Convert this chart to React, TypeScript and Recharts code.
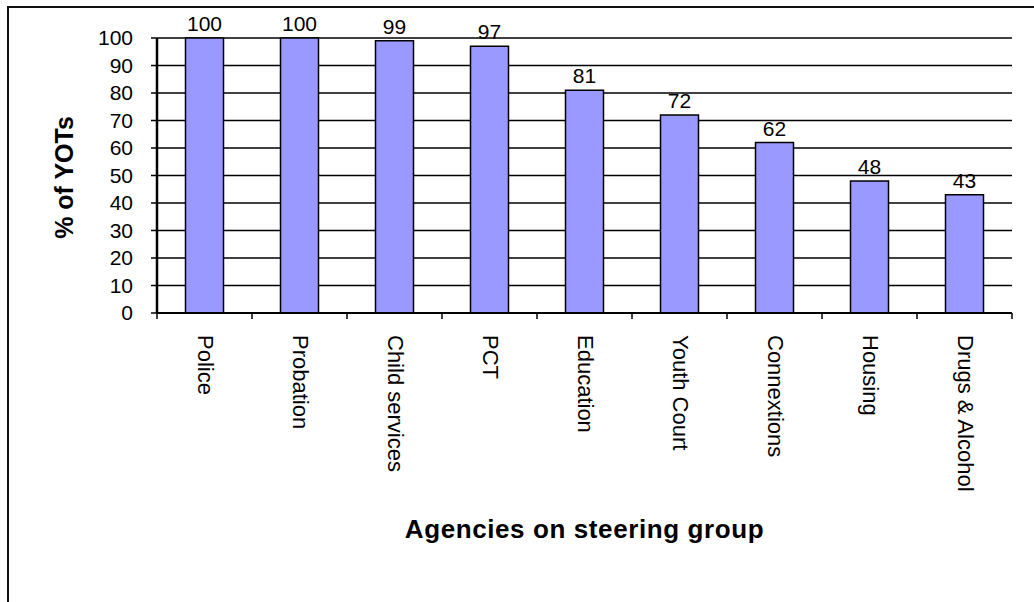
import React from "react";
import {
  BarChart,
  Bar,
  XAxis,
  YAxis,
  CartesianGrid,
  LabelList,
  Label,
} from "recharts";

const agencies = [
  "Police",
  "Probation",
  "Child services",
  "PCT",
  "Education",
  "Youth Court",
  "Connextions",
  "Housing",
  "Drugs & Alcohol",
];
const percentYots = [100, 100, 99, 97, 81, 72, 62, 48, 43];
const yTicks = [0, 10, 20, 30, 40, 50, 60, 70, 80, 90, 100];

const data = agencies.map((agency, i) => ({ agency, value: percentYots[i] }));

const FONT = "Arial, 'Liberation Sans', sans-serif";

const AgencyTick = (props: any) => {
  const { x, y, payload, index } = props;
  const half = payload?.offset ?? 47.5;
  const axisY = y - 22;
  return (
    <g>
      <line x1={x - half} x2={x - half} y1={axisY} y2={axisY + 6} stroke="#000" strokeWidth={1.5} />
      {index === agencies.length - 1 && (
        <line x1={x + half} x2={x + half} y1={axisY} y2={axisY + 6} stroke="#000" strokeWidth={1.5} />
      )}
      <text
        x={x + 1}
        y={y}
        transform={`rotate(90, ${x + 1}, ${y})`}
        textAnchor="start"
        dominantBaseline="central"
        fontSize={22}
        fontFamily={FONT}
        fill="#000"
      >
        {payload.value}
      </text>
    </g>
  );
};

const YTitle = (props: any) => {
  const vb = props.viewBox;
  const cx = vb.x + vb.width / 2 - 15;
  const cy = vb.y + vb.height / 2 + 2;
  return (
    <text
      x={cx}
      y={cy}
      transform={`rotate(-90, ${cx}, ${cy})`}
      textAnchor="middle"
      dominantBaseline="central"
      fontSize={25}
      fontWeight="bold"
      fontFamily={FONT}
      fill="#000"
    >
      % of YOTs
    </text>
  );
};

export default function App() {
  return (
    <div
      style={{
        position: "fixed",
        left: 0,
        top: 0,
        width: 1034,
        height: 602,
        overflow: "hidden",
        background: "#fff",
      }}
    >
      <div
        style={{
          position: "absolute",
          left: 7,
          top: 6,
          width: 1100,
          height: 700,
          border: "2px solid #111",
        }}
      />
      <div style={{ position: "absolute", left: 0, top: 0 }}>
        <BarChart
          width={1034}
          height={602}
          data={data}
          margin={{ top: 38, right: 22, left: 0, bottom: 0 }}
          barCategoryGap="30%"
        >
          <CartesianGrid vertical={false} stroke="#000" strokeWidth={1.5} />
          <XAxis
            dataKey="agency"
            interval={0}
            height={289}
            tickLine={false}
            tickSize={6}
            tickMargin={16}
            axisLine={{ stroke: "#000", strokeWidth: 2 }}
            tick={<AgencyTick />}
          >
            <Label
              value="Agencies on steering group"
              position="insideBottom"
              offset={64}
              fontSize={26}
              fontWeight="bold"
              fontFamily={FONT}
              letterSpacing={0.6}
              fill="#000"
            />
          </XAxis>
          <YAxis
            width={157}
            domain={[0, 100]}
            ticks={yTicks}
            interval={0}
            tickSize={6}
            tickMargin={18}
            tickLine={{ stroke: "#000", strokeWidth: 1.5 }}
            axisLine={{ stroke: "#000", strokeWidth: 2.5 }}
            tick={{ fill: "#000", fontSize: 21, fontFamily: FONT }}
          >
            <Label content={<YTitle />} />
          </YAxis>
          <YAxis
            yAxisId="right"
            orientation="right"
            width={0}
            domain={[0, 100]}
            tick={false}
            tickLine={false}
            axisLine={{ stroke: "#333", strokeWidth: 1.5 }}
          />
          <Bar
            dataKey="value"
            fill="#9999FF"
            stroke="#000"
            strokeWidth={1.5}
            isAnimationActive={false}
          >
            <LabelList
              dataKey="value"
              position="top"
              offset={7}
              fill="#000"
              fontSize={21}
              fontFamily={FONT}
            />
          </Bar>
        </BarChart>
      </div>
    </div>
  );
}
